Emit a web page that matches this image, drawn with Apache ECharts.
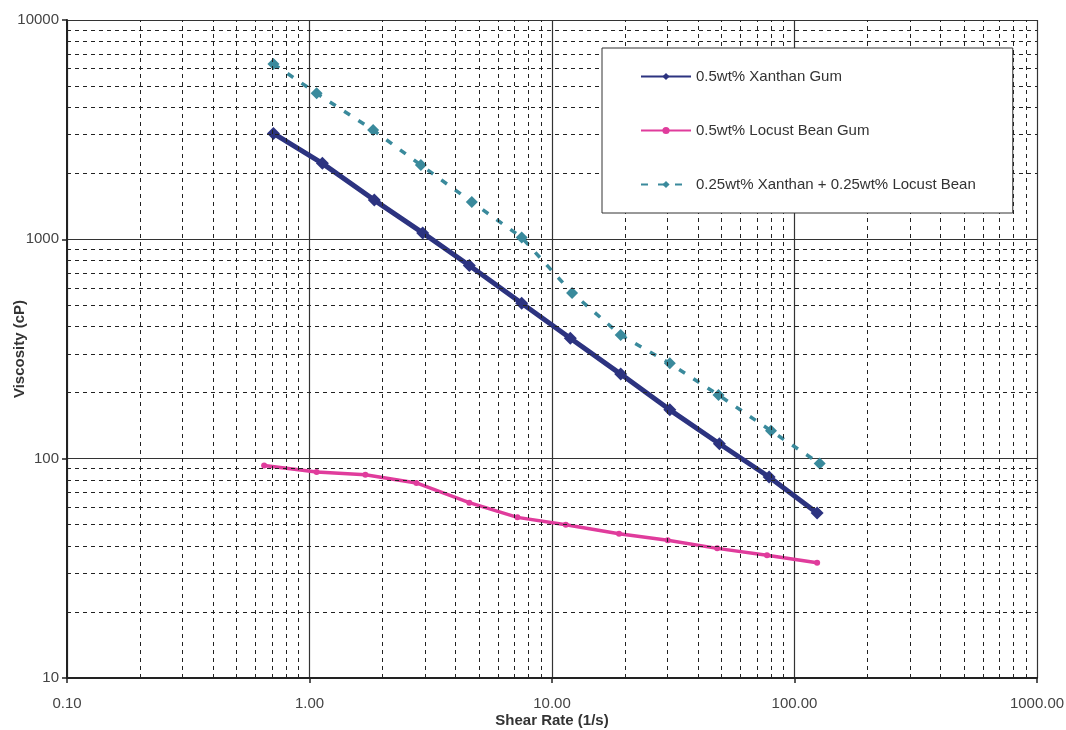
<!DOCTYPE html>
<html>
<head>
<meta charset="utf-8">
<title>Viscosity vs Shear Rate</title>
<script src="https://cdn.jsdelivr.net/npm/echarts@6/dist/echarts.min.js"></script>
<style>
    html, body {
        margin: 0;
        padding: 0;
        background: #ffffff;
    }

    #viscosityChart {
        width: 1066px;
        height: 730px;
    }
</style>
</head>
<body>
<div id="viscosityChart"></div>
<script>
    // shear rate (1/s) and viscosity (cP)
    var xanthanRate = [0.71, 1.13, 1.85, 2.93, 4.56, 7.5, 11.9, 19.2, 30.6, 49, 78.6, 124];
    var xanthanVisc = [3040, 2220, 1510, 1070, 760, 511, 354, 243, 167, 117, 82.5, 56.5];

    var locustRate = [0.65, 1.07, 1.7, 2.76, 4.56, 7.2, 11.4, 18.9, 30, 48, 77, 124];
    var locustVisc = [93, 87, 84.5, 77.5, 63, 54, 50, 45.5, 42.5, 39, 36.3, 33.5];

    var blendRate = [0.71, 1.07, 1.83, 2.88, 4.67, 7.5, 12.1, 19.2, 30.6, 48.6, 80, 127];
    var blendVisc = [6300, 4630, 3150, 2180, 1480, 1020, 570, 366, 272, 195, 134, 95];

    var seriesNames = ['0.5wt% Xanthan Gum', '0.5wt% Locust Bean Gum', '0.25wt% Xanthan + 0.25wt% Locust Bean'];

    // axis ticks
    var xTicks = [0.1, 1, 10, 100, 1000];
    var yTicks = [10, 100, 1000, 10000];
    var minorSteps = [2, 3, 4, 5, 6, 7, 8, 9];

    function pairs(xs, ys) {
        var out = [];
        for (var i = 0; i < xs.length; i++) {
            out.push([xs[i], ys[i]]);
        }
        return out;
    }

    // dashed minor grid at 2..9 of each decade
    var minorGrid = [];
    xTicks.slice(0, -1).forEach(function (d) {
        minorSteps.forEach(function (m) {
            minorGrid.push({xAxis: +(d * m).toPrecision(6)});
        });
    });
    yTicks.slice(0, -1).forEach(function (d) {
        minorSteps.forEach(function (m) {
            minorGrid.push({yAxis: d * m});
        });
    });

    var chart = echarts.init(document.getElementById('viscosityChart'));
    var font = 'Liberation Sans, Arial, sans-serif';

    var option = {
        backgroundColor: '#ffffff',
        animation: false,
        textStyle: {fontFamily: font},
        grid: {
            left: 67,
            right: 29,
            top: 20,
            bottom: 52,
            containLabel: false,
            outerBoundsMode: 'none'
        },
        legend: {
            data: seriesNames,
            orient: 'vertical',
            left: 602,
            top: 48,
            z: 10,
            itemWidth: 50,
            itemHeight: 9,
            itemGap: 39,
            padding: [21, 37, 21, 38],
            backgroundColor: '#ffffff',
            borderColor: '#333333',
            borderWidth: 1,
            textStyle: {
                fontFamily: font,
                fontSize: 15,
                color: '#333333'
            }
        },
        xAxis: {
            type: 'log',
            logBase: 10,
            min: 0.1,
            max: 1000,
            name: 'Shear Rate (1/s)',
            nameLocation: 'middle',
            nameGap: 35,
            nameMoveOverlap: false,
            nameTextStyle: {
                fontFamily: font,
                fontSize: 15,
                fontWeight: 'bold',
                color: '#333333'
            },
            axisLine: {
                onZero: false,
                lineStyle: {color: '#222222', width: 2}
            },
            axisTick: {
                show: true,
                length: 5,
                lineStyle: {color: '#222222', width: 1.5}
            },
            axisLabel: {
                margin: 18,
                fontSize: 15,
                color: '#444444',
                formatter: function (v) {
                    return v.toFixed(2);
                }
            },
            splitLine: {
                show: true,
                lineStyle: {color: '#333333', width: 1.2}
            }
        },
        yAxis: {
            type: 'log',
            logBase: 10,
            min: 10,
            max: 10000,
            name: 'Viscosity (cP)',
            nameLocation: 'middle',
            nameGap: 40,
            nameMoveOverlap: false,
            nameTextStyle: {
                fontFamily: font,
                fontSize: 15,
                fontWeight: 'bold',
                color: '#333333'
            },
            axisLine: {
                onZero: false,
                lineStyle: {color: '#222222', width: 2}
            },
            axisTick: {
                show: true,
                length: 5,
                lineStyle: {color: '#222222', width: 1.5}
            },
            axisLabel: {
                margin: 8,
                fontSize: 15,
                color: '#444444',
                formatter: function (v) {
                    return String(v);
                }
            },
            splitLine: {
                show: true,
                lineStyle: {color: '#333333', width: 1.2}
            }
        },
        series: [
            {
                // helper: minor dashed grid
                name: 'grid',
                type: 'line',
                data: [[1, 100]],
                showSymbol: false,
                silent: true,
                z: 1,
                lineStyle: {opacity: 0},
                markLine: {
                    silent: true,
                    symbol: 'none',
                    animation: false,
                    label: {show: false},
                    lineStyle: {
                        color: '#222222',
                        type: [4, 4],
                        width: 1
                    },
                    data: minorGrid
                }
            },
            {
                name: seriesNames[0],
                type: 'line',
                data: pairs(xanthanRate, xanthanVisc),
                z: 4,
                symbol: 'diamond',
                symbolSize: 13,
                itemStyle: {color: '#2c3380'},
                lineStyle: {color: '#2c3380', width: 5}
            },
            {
                name: seriesNames[1],
                type: 'line',
                data: pairs(locustRate, locustVisc),
                z: 3,
                symbol: 'circle',
                symbolSize: 6,
                itemStyle: {color: '#e03c9c'},
                lineStyle: {color: '#e03c9c', width: 3.5}
            },
            {
                name: seriesNames[2],
                type: 'line',
                data: pairs(blendRate, blendVisc),
                z: 3,
                symbol: 'diamond',
                symbolSize: 12,
                itemStyle: {color: '#3a8a9c'},
                lineStyle: {color: '#3a8a9c', width: 3.5, type: [7, 10]}
            }
        ]
    };
    chart.setOption(option);
</script>
</body>
</html>
